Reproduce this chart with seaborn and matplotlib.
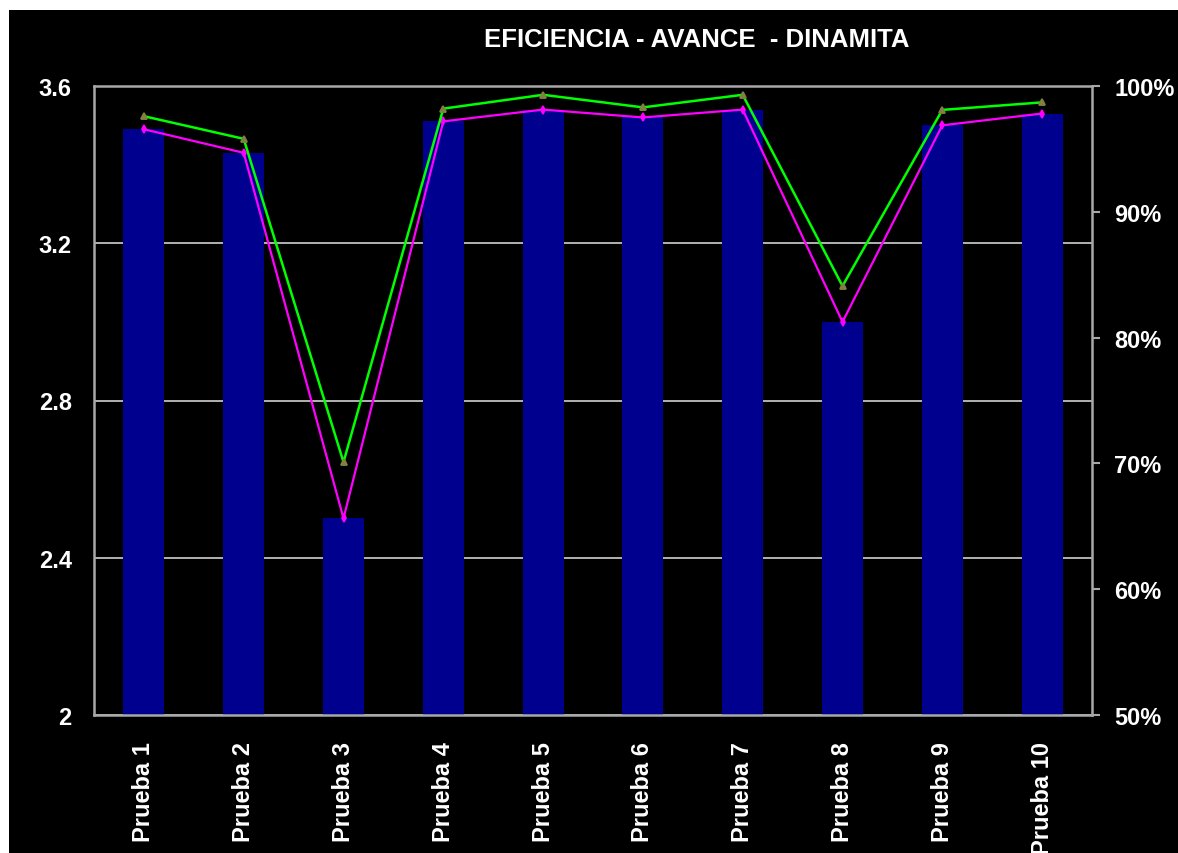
import matplotlib
matplotlib.use("Agg")
import matplotlib.pyplot as plt
import matplotlib.patches as mpatches
import seaborn as sns
import pandas as pd

# Datos
pruebas = ["Prueba 1", "Prueba 2", "Prueba 3", "Prueba 4", "Prueba 5",
           "Prueba 6", "Prueba 7", "Prueba 8", "Prueba 9", "Prueba 10"]
avance = [3.49, 3.43, 2.50, 3.51, 3.54, 3.52, 3.54, 3.00, 3.50, 3.53]
eficiencia = [97.6, 95.8, 70.1, 98.2, 99.3, 98.3, 99.3, 84.1, 98.1, 98.7]
left_ticks = [2, 2.4, 2.8, 3.2, 3.6]
left_labels = ["2", "2.4", "2.8", "3.2", "3.6"]
right_ticks = [50, 60, 70, 80, 90, 100]
right_labels = ["50%", "60%", "70%", "80%", "90%", "100%"]

df = pd.DataFrame({"prueba": pruebas, "avance": avance, "eficiencia": eficiencia})

sns.set_theme(style="dark", rc={"axes.facecolor": "black", "figure.facecolor": "white"})
plt.rcParams["font.family"] = ["Liberation Sans", "DejaVu Sans"]

fig = plt.figure(figsize=(11.78, 8.54), dpi=100)
# fondo negro con la franja blanca arriba e izquierda
fig.patches.append(mpatches.Rectangle((9 / 1178, 0), 1, 1 - 11 / 854,
                                      transform=fig.transFigure, facecolor="black",
                                      edgecolor="none", zorder=-10))

ax = fig.add_axes([94 / 1178, 1 - 716 / 854, (1092 - 94) / 1178, (716 - 87) / 854])
ax.set_facecolor("black")

sns.barplot(data=df, x="prueba", y="avance", color="#00008f", saturation=1,
            width=0.41, edgecolor="none", linewidth=0, ax=ax, zorder=2)
sns.pointplot(data=df, x="prueba", y="avance", color="#ff00ff", markers="d",
              markersize=4, linewidth=1.6, errorbar=None, ax=ax, zorder=3)

ax.set_ylim(2, 3.6)
ax.set_yticks(left_ticks)
ax.set_yticklabels(left_labels)
ax.set_axisbelow(True)
ax.grid(axis="y", color="#c0c0c0", linewidth=1.3)
ax.grid(axis="x", visible=False)
ax.set_xlabel("")
ax.set_ylabel("")
ax.tick_params(axis="y", length=0, pad=16, labelsize=17, labelcolor="white")
ax.tick_params(axis="x", length=0, pad=19, labelsize=17, labelcolor="white", rotation=90)
for lbl in ax.get_xticklabels() + ax.get_yticklabels():
    lbl.set_fontweight("bold")
for side in ["top", "bottom", "left", "right"]:
    ax.spines[side].set_visible(True)
    ax.spines[side].set_color("#a8a8a8")
    ax.spines[side].set_linewidth(1.8)

ax2 = ax.twinx()
sns.pointplot(data=df, x="prueba", y="eficiencia", color="#00ff00", markers="^",
              markersize=4, linewidth=1.8, errorbar=None, ax=ax2, zorder=4)
for ln in ax2.lines:
    ln.set_markerfacecolor("#808040")
    ln.set_markeredgecolor("#808040")
ax2.set_ylim(50, 100)
ax2.set_yticks(right_ticks)
ax2.set_yticklabels(right_labels)
ax2.set_ylabel("")
ax2.set_xlim(-0.5, len(pruebas) - 0.5)
ax.set_xlim(-0.5, len(pruebas) - 0.5)
ax2.grid(False)
ax2.tick_params(axis="y", length=6, width=1.5, color="#a8a8a8", pad=10,
                labelsize=17, labelcolor="white")
for lbl in ax2.get_yticklabels():
    lbl.set_fontweight("bold")
for side in ["top", "bottom", "left", "right"]:
    ax2.spines[side].set_visible(False)

fig.text(697 / 1178, 1 - 40 / 854, "EFICIENCIA - AVANCE  - DINAMITA", color="white",
         fontsize=18.5, fontweight="bold", ha="center", va="center")

fig.savefig("out.png", dpi=100, facecolor=fig.get_facecolor())
